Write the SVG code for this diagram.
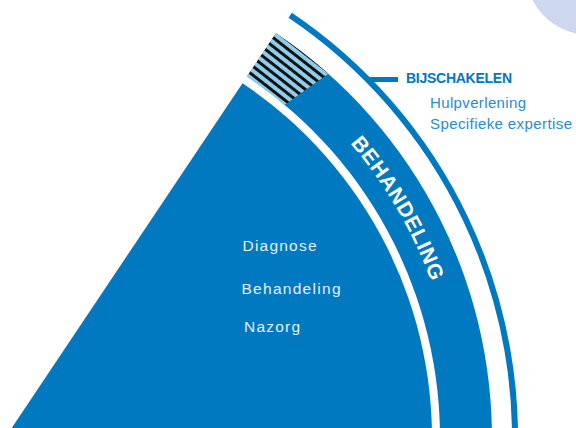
<svg xmlns="http://www.w3.org/2000/svg" width="576" height="428" viewBox="0 0 576 428">
  <defs>
    <pattern id="hatch" patternUnits="userSpaceOnUse" width="7" height="7" patternTransform="rotate(38)">
      <rect width="7" height="7" fill="#8FCDEB"/>
      <rect width="7" height="3" fill="#111111"/>
    </pattern>
    <path id="bandText" d="M 350.2,143.2 A 454 454 0 0 1 457.3,398.4"/>
  </defs>
  <style>
    .blue { fill: #0079C1; }
    .ring { fill: none; stroke: #0079C1; stroke-width: 6; stroke-linecap: butt; }
    .inner { font-family: "Liberation Sans", Arial, sans-serif; font-size: 15.5px; fill: #E6F0F8; }
    .side { font-family: "Liberation Sans", Arial, sans-serif; font-size: 15px; fill: #2A8CD0; }
    .head { font-family: "Liberation Sans", Arial, sans-serif; font-size: 14px; font-weight: bold; fill: #0077BF; }
    .bandlabel { font-family: "Liberation Sans", Arial, sans-serif; font-size: 21px; font-weight: bold; fill: #FFFFFF; }
  </style>
  <rect width="576" height="428" fill="#FFFFFF"/>

  <g id="deco-circle">
    <circle cx="590" cy="-30" r="65" fill="#CDD8EE"/>
  </g>

  <g id="inner-sector">
    <path class="blue" d="M 5,438 L 242.5,83.2 A 427 427 0 0 1 431.4,460.3 Z"/>
    <text class="inner" x="242.5" y="250.5" textLength="74">Diagnose</text>
    <text class="inner" x="241.5" y="294" textLength="99">Behandeling</text>
    <text class="inner" x="244" y="331.5" textLength="56">Nazorg</text>
  </g>

  <g id="band">
    <path class="blue" d="M 247,76.5 L 275.9,33.3 A 487 487 0 0 1 491.3,463.5 L 439.4,460.8 A 435 435 0 0 0 247,76.5 Z"/>
    <text class="bandlabel"><textPath href="#bandText" textLength="161">BEHANDELING</textPath></text>
  </g>

  <g id="hatch">
    <path fill="url(#hatch)" d="M 247,76.5 L 275.9,33.3 A 487 487 0 0 1 328.3,73.8 L 284.6,104.8 A 435 435 0 0 0 247,76.5 Z"/>
  </g>

  <g id="outer-ring">
    <path class="ring" d="M 290.2,15.2 A 510 510 0 0 1 513.1,482.4"/>
  </g>

  <g id="connectors">
    <rect class="blue" x="367" y="77" width="31" height="5"/>
  </g>

  <g id="bijschakelen">
    <text class="head" x="406" y="83.3" textLength="106">BIJSCHAKELEN</text>
    <text class="side" x="430" y="108" textLength="96">Hulpverlening</text>
    <text class="side" x="430" y="129" textLength="142">Specifieke expertise</text>
  </g>
</svg>
